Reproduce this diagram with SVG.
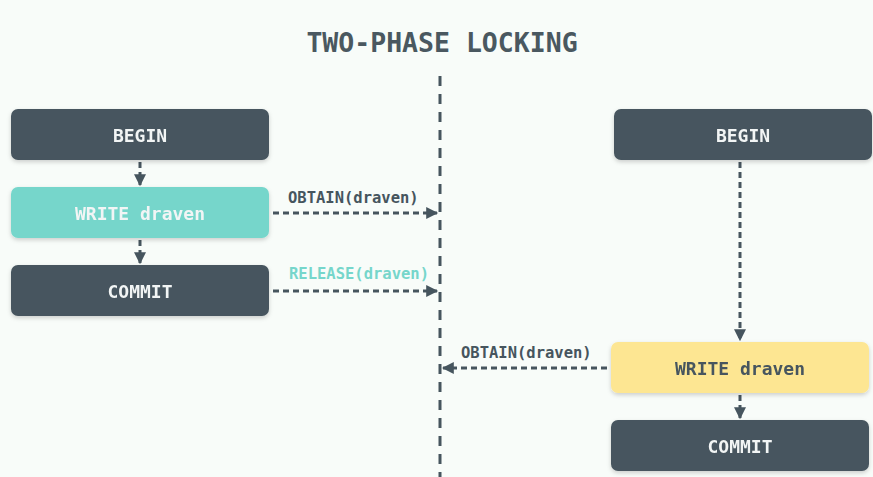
<svg xmlns="http://www.w3.org/2000/svg" width="873" height="477" viewBox="0 0 873 477">
<defs>
<style>
.dark{fill:#46555e}
.teal{fill:#76d6cb}
.yellow{fill:#fde692}
.nt{font-family:"DejaVu Sans Mono","Liberation Mono",monospace;font-size:18px;font-weight:bold;text-anchor:middle;dominant-baseline:central}
.w{fill:#f2f5f5}
.lbl{font-family:"DejaVu Sans Mono","Liberation Mono",monospace;font-size:15.5px;font-weight:bold}
.conn{stroke:#46555e;stroke-width:3;fill:none;stroke-dasharray:6 4}
</style>
<filter id="sh" x="-10%" y="-20%" width="120%" height="150%">
<feDropShadow dx="0" dy="2" stdDeviation="2" flood-color="#000" flood-opacity="0.18"/>
</filter>
<marker id="ah" viewBox="0 0 10 10" refX="9" refY="5" markerWidth="4.2" markerHeight="4" orient="auto" markerUnits="strokeWidth">
<path d="M0,0 L10,5 L0,10 z" fill="#46555e"/>
</marker>
</defs>
<rect width="873" height="477" fill="#f8fcf9"/>
<text x="442" y="42" font-family="'DejaVu Sans Mono','Liberation Mono',monospace" font-size="26.5" font-weight="bold" fill="#4a5860" text-anchor="middle" dominant-baseline="central">TWO-PHASE LOCKING</text>
<g id="connectors">
<line x1="440" y1="76" x2="440" y2="477" stroke="#46555e" stroke-width="3" stroke-dasharray="10 8"/>
<line class="conn" x1="140" y1="162" x2="140" y2="185" marker-end="url(#ah)"/>
<line class="conn" x1="140" y1="240" x2="140" y2="263" marker-end="url(#ah)"/>
<line class="conn" x1="273" y1="213" x2="437" y2="213" marker-end="url(#ah)"/>
<line class="conn" x1="273" y1="291" x2="437" y2="291" marker-end="url(#ah)"/>
<line class="conn" x1="740" y1="162" x2="740" y2="340" marker-end="url(#ah)"/>
<line class="conn" x1="607" y1="368" x2="443" y2="368" marker-end="url(#ah)"/>
<line class="conn" x1="740" y1="395" x2="740" y2="418" marker-end="url(#ah)"/>
<text class="lbl" x="288" y="203" fill="#46555e">OBTAIN(draven)</text>
<text class="lbl" x="289" y="279" fill="#76d6cb">RELEASE(draven)</text>
<text class="lbl" x="461" y="358" fill="#46555e">OBTAIN(draven)</text>
</g>
<g id="begin-left" filter="url(#sh)">
<rect class="dark" x="11" y="109" width="258" height="51" rx="7"/>
<text class="nt w" x="140" y="135">BEGIN</text>
</g>
<g id="write-left" filter="url(#sh)">
<rect class="teal" x="11" y="187" width="258" height="51" rx="7"/>
<text class="nt w" x="140" y="213">WRITE draven</text>
</g>
<g id="commit-left" filter="url(#sh)">
<rect class="dark" x="11" y="265" width="258" height="51" rx="7"/>
<text class="nt w" x="140" y="291">COMMIT</text>
</g>
<g id="begin-right" filter="url(#sh)">
<rect class="dark" x="614" y="109" width="258" height="51" rx="7"/>
<text class="nt w" x="743" y="135">BEGIN</text>
</g>
<g id="write-right" filter="url(#sh)">
<rect class="yellow" x="611" y="342" width="258" height="51" rx="7"/>
<text class="nt" x="740" y="368" fill="#46555e">WRITE draven</text>
</g>
<g id="commit-right" filter="url(#sh)">
<rect class="dark" x="611" y="420" width="258" height="51" rx="7"/>
<text class="nt w" x="740" y="446">COMMIT</text>
</g>
</svg>
